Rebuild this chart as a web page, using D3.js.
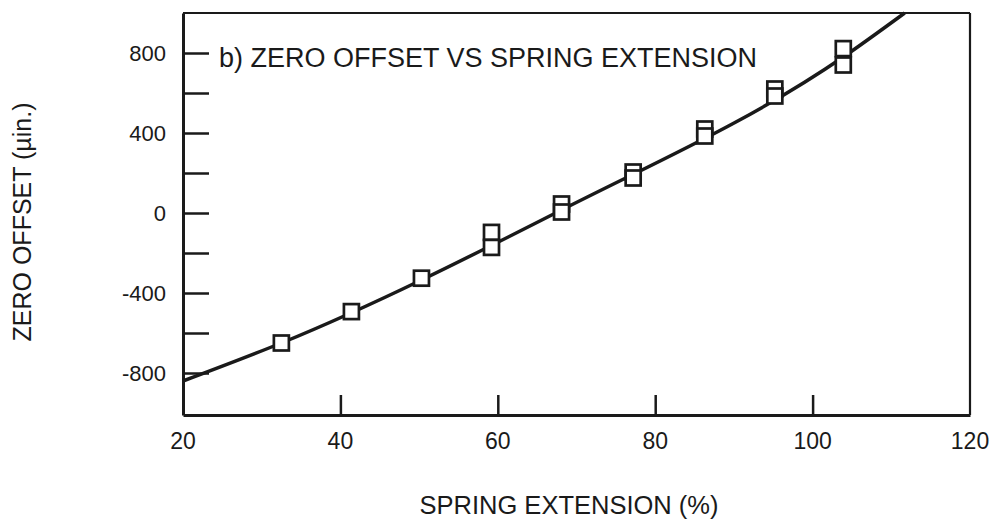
<!DOCTYPE html>
<html>
<head>
<meta charset="utf-8">
<script src="https://cdn.jsdelivr.net/npm/d3@7"></script>
<style>
  html, body { margin: 0; padding: 0; background: #ffffff; }
  svg { display: block; }
  text { font-family: "Liberation Sans", Arial, Helvetica, sans-serif; fill: #1a1a1a; }
</style>
</head>
<body>
<svg id="chart" width="996" height="522"></svg>
<script>
// Measured spring extension (%) and zero offset (µin.), repeated readings per extension
const extension = [32.5, 41.4, 50.3, 59.2, 59.2, 68.1, 68.1, 77.2, 77.2, 86.3, 86.3, 95.2, 95.2, 103.9, 103.9];
const zeroOffset = [-650, -493, -326, -97, -172, 45, 5, 205, 175, 420, 385, 620, 585, 822, 740];

// Fitted trend line through the readings
const fitExtension = [20, 32.5, 68.1, 103.9, 111.7];
const fitOffset = [-840, -650, 15, 780, 1000];

// Axis ticks and labels
const xTicks = [40, 60, 80, 100];
const xLabels = [20, 40, 60, 80, 100, 120];
const yTicks = [-800, -600, -400, -200, 0, 200, 400, 600, 800];
const yLabels = [-800, -400, 0, 400, 800];

const plotTitle = "b) ZERO OFFSET VS SPRING EXTENSION";
const xTitle = "SPRING EXTENSION (%)";
const yTitle = "ZERO OFFSET (\u00b5in.)";

const svg = d3.select("#chart");
const ink = "#1a1a1a";

const plotLeft = 183, plotRight = 970, plotTop = 13, plotBottom = 415;
const x = d3.scaleLinear().domain([20, 120]).range([plotLeft, plotRight]);
const y = d3.scaleLinear().domain([-1010, 1000]).range([plotBottom, plotTop]);

// Frame: heavy left/bottom axes, lighter top/right edges
svg.append("line").attr("x1", plotLeft).attr("x2", plotRight).attr("y1", plotTop).attr("y2", plotTop)
  .attr("stroke", ink).attr("stroke-width", 2.2);
svg.append("line").attr("x1", plotRight).attr("x2", plotRight).attr("y1", plotTop).attr("y2", plotBottom)
  .attr("stroke", ink).attr("stroke-width", 2.2);

// X axis with inward ticks
const xAxis = d3.axisBottom(x).tickValues(xTicks).tickSizeInner(-20).tickSizeOuter(0).tickFormat("");
const gx = svg.append("g").attr("transform", `translate(0,${plotBottom})`).call(xAxis);
gx.select(".domain").attr("stroke", ink).attr("stroke-width", 3);
gx.selectAll(".tick line").attr("stroke", ink).attr("stroke-width", 2.5);

svg.append("g").selectAll("text").data(xLabels).join("text")
  .attr("x", d => x(d)).attr("y", 449)
  .attr("text-anchor", "middle").attr("font-size", 23)
  .text(d => d);

// Y axis with inward ticks
const yAxis = d3.axisLeft(y).tickValues(yTicks).tickSizeInner(-26).tickSizeOuter(0).tickFormat("");
const gy = svg.append("g").attr("transform", `translate(${plotLeft},0)`).call(yAxis);
gy.select(".domain").attr("stroke", ink).attr("stroke-width", 3);
gy.selectAll(".tick line").attr("stroke", ink).attr("stroke-width", 2.5);

svg.append("g").selectAll("text").data(yLabels).join("text")
  .attr("x", 166).attr("y", d => y(d))
  .attr("dy", "0.36em")
  .attr("text-anchor", "end").attr("font-size", 22)
  .text(d => d);

// Fitted line
const line = d3.line().x(d => x(d[0])).y(d => y(d[1])).curve(d3.curveMonotoneX);
svg.append("path")
  .datum(d3.zip(fitExtension, fitOffset))
  .attr("d", line)
  .attr("fill", "none").attr("stroke", ink).attr("stroke-width", 3.5);

// Open square markers
const s = 15;
svg.append("g").selectAll("rect").data(d3.zip(extension, zeroOffset)).join("rect")
  .attr("x", d => x(d[0]) - s / 2).attr("y", d => y(d[1]) - s / 2)
  .attr("width", s).attr("height", s)
  .attr("fill", "#ffffff").attr("stroke", ink).attr("stroke-width", 2.7);

// Titles
svg.append("text").attr("x", 219).attr("y", 67).attr("font-size", 27).text(plotTitle);
svg.append("text").attr("x", 569).attr("y", 514).attr("text-anchor", "middle").attr("font-size", 25.5).text(xTitle);
svg.append("text").attr("transform", "translate(31,222) rotate(-90)")
  .attr("text-anchor", "middle").attr("font-size", 25).text(yTitle);
</script>
</body>
</html>
